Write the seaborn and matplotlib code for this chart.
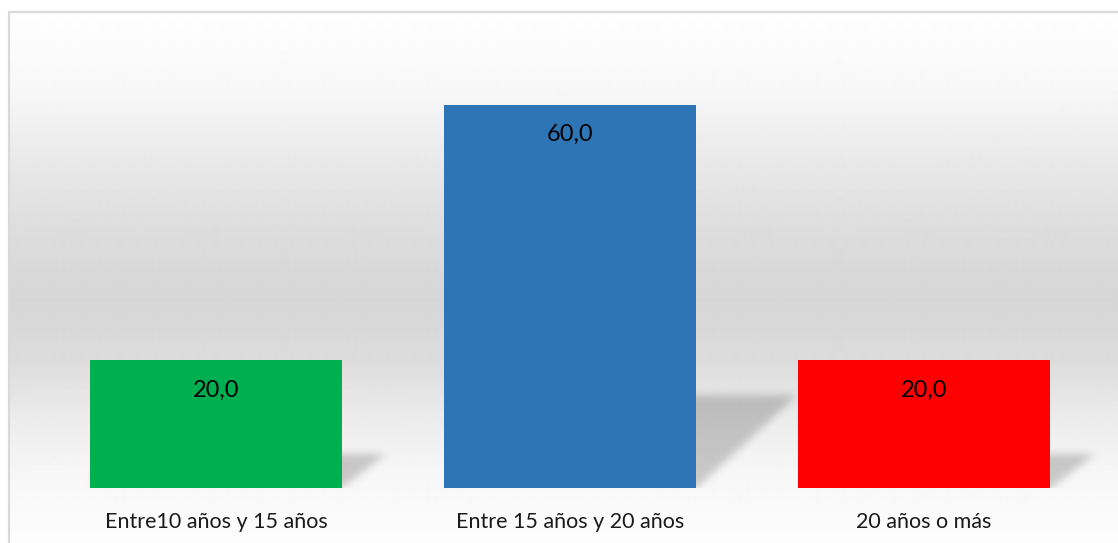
import numpy as np
import pandas as pd
import matplotlib
matplotlib.use("Agg")
import matplotlib.pyplot as plt
import seaborn as sns

# Data
categories = ["Entre10 años y 15 años", "Entre 15 años y 20 años", "20 años o más"]
percentages = [20.0, 60.0, 20.0]
bar_colors = ["#00B050", "#2E75B6", "#FF0000"]

W, H = 1118, 543
DPI = 100
AX_W, AX_H = 1062, 447
YMAX = 70


def blur(img, sigma):
    # simple separable gaussian blur with numpy only
    r = int(3 * sigma)
    k = np.exp(-0.5 * (np.arange(-r, r + 1) / sigma) ** 2)
    k /= k.sum()
    img = np.apply_along_axis(lambda m: np.convolve(m, k, mode="same"), 0, img)
    img = np.apply_along_axis(lambda m: np.convolve(m, k, mode="same"), 1, img)
    return img


sns.set_theme(style="white")
plt.rcParams["font.family"] = ["Lato", "DejaVu Sans"]

fig = plt.figure(figsize=(W / DPI, H / DPI), dpi=DPI)
fig.patch.set_facecolor("white")

# Background: vertical grey gradient inside the chart frame
bg = fig.add_axes([0, 0, 1, 1], zorder=0)
bg.set_xlim(0, W)
bg.set_ylim(H, 0)
bg.axis("off")
stops_y = [11, 100, 150, 230, 300, 360, 420, 470, 543]
stops_v = [255, 246, 235, 221, 214, 220, 236, 246, 253]
rows = np.interp(np.arange(11, H), stops_y, stops_v) / 255.0
grad = np.repeat(rows[:, None], 2, axis=1)
bg.imshow(grad, cmap="gray", vmin=0, vmax=1, extent=[9, W, H, 11],
          aspect="auto", interpolation="bilinear")
bg.plot([8.5, 8.5], [H, 11.5], color="#d9d9d9", lw=1.6)
bg.plot([8.5, W], [11.5, 11.5], color="#d9d9d9", lw=1.6)

# Main bar axes
ax = fig.add_axes([39 / W, 55 / H, AX_W / W, AX_H / H], zorder=1)
ax.patch.set_alpha(0)

df = pd.DataFrame({"categoria": categories, "valor": percentages})
sns.barplot(data=df, x="categoria", y="valor", hue="categoria",
            palette=bar_colors, saturation=1, width=0.712, linewidth=0,
            legend=False, ax=ax, zorder=3)

ax.set_ylim(0, YMAX)
ax.set_xlim(-0.5, 2.5)

# Soft perspective shadow behind each bar (blurred parallelogram)
px_x = AX_W / 3.0
px_y = AX_H / YMAX
for bar in ax.patches:
    x0 = bar.get_x()
    x1 = x0 + bar.get_width()
    h = bar.get_height()
    sh_px = 0.23 * h * px_y + 4
    dx_px = 0.22 * h * px_y + 15
    bw_px = (x1 - x0) * px_x
    margin = 16
    nx = int(bw_px + dx_px + 2 * margin)
    ny = int(sh_px + 2 * margin)
    yy, xx = np.mgrid[0:ny, 0:nx]
    yb = (ny - 1 - yy) - margin          # height above bar bottom in px
    xb = xx - margin                     # px from bar left edge
    t = np.clip(yb / sh_px, 0, 1)
    mask = ((yb >= 0) & (yb <= sh_px) &
            (xb >= dx_px * t) & (xb <= bw_px + dx_px * t)).astype(float)
    mask = blur(mask, 4.0)
    rgba = np.zeros((ny, nx, 4))
    rgba[..., 3] = 0.19 * mask
    ext = [x0 - margin / px_x, x0 + (nx - margin) / px_x,
           -margin / px_y, (ny - margin) / px_y]
    ax.imshow(rgba, extent=ext, aspect="auto", zorder=2,
              interpolation="bilinear", clip_on=True)

ax.set_xlim(-0.5, 2.5)
ax.set_ylim(0, YMAX)

labels = [f"{v:.1f}".replace(".", ",") for v in percentages]
for cont in ax.containers:
    ax.bar_label(cont, labels=[labels[int(round(b.get_x() + b.get_width() / 2))] for b in cont],
                 label_type="edge", padding=-29, fontsize=17, color="black")

ax.set_xlabel("")
ax.set_ylabel("")
ax.set_yticks([])
ax.tick_params(axis="x", length=0, pad=17, labelsize=15.5, labelcolor="#1a1a1a")
sns.despine(ax=ax, left=True, bottom=True)

fig.savefig("out.png", dpi=DPI)
